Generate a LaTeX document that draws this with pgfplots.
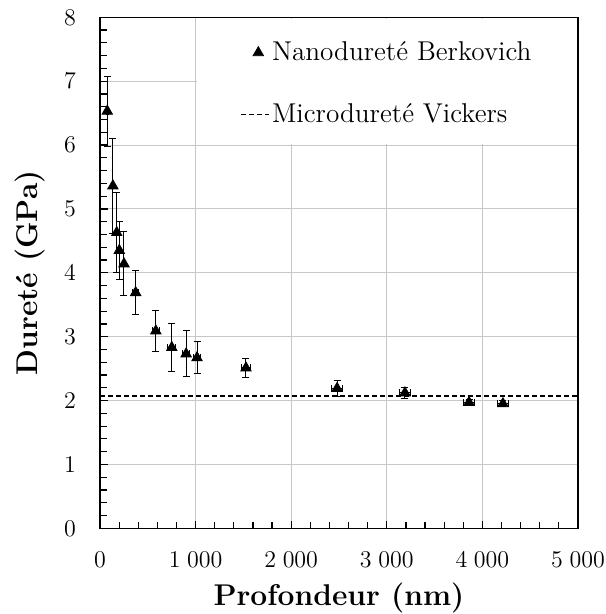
\documentclass[border=0pt]{standalone}
\usepackage{fontspec}
\usepackage{pgfplots}
\pgfplotsset{compat=1.18}
\usepackage{pgfplotstable}

\pgfplotsset{shortdash legend/.style={legend image code/.code={\draw[##1] (0pt,0pt) -- (14pt,0pt);}}}

\pgfplotstableread{
x     y     ex   ey
76    6.53  10   0.55
135   5.36  10   0.75
175   4.63  10   0.63
202   4.35  10   0.45
251   4.14  10   0.50
373   3.69  30   0.34
584   3.09  40   0.32
751   2.83  40   0.37
901   2.73  40   0.36
1015  2.67  40   0.25
1527  2.51  50   0.15
2480  2.19  60   0.12
3190  2.12  60   0.09
3860  1.97  60   0.05
4215  1.95  60   0.05
}\nano

\begin{document}
\begin{tikzpicture}
\begin{axis}[
  name=ax,
  scale only axis,
  width=239pt, height=255.5pt,
  xmin=0, xmax=5000, ymin=0, ymax=8,
  xtick={0,1000,...,5000}, ytick={0,1,...,8},
  minor x tick num=4, minor y tick num=4,
  xtick pos=left, ytick pos=left,
  tick align=inside,
  major tick length=3.75pt, minor tick length=3.3pt,
  tick style={black, line width=0.6pt},
  axis line style={black, line width=0.8pt},
  grid=major,
  major grid style={black!22, line width=0.5pt},
  scaled ticks=false,
  /pgf/number format/.cd, 1000 sep={\;}, /pgfplots/.cd,
  tick label style={font=\fontsize{12}{14}\selectfont},
  xticklabel style={yshift=-8.5pt},
  yticklabel style={xshift=-8.5pt},
  xlabel={Profondeur (nm)},
  ylabel={Dureté (GPa)},
  xlabel style={font=\fontsize{15}{17}\selectfont\bfseries, at={(axis description cs:0.5,-0.137)}, anchor=center},
  ylabel style={font=\fontsize{15}{17}\selectfont\bfseries, at={(axis description cs:-0.146,0.5)}, anchor=center},
  legend style={at={(rel axis cs:0.293,0.957)}, anchor=north west, draw=none, fill=none,
    font=\fontsize{13.6}{15}\selectfont, row sep=18pt, inner sep=0pt,
    nodes={inner sep=1pt}},
  legend cell align=left,
]
\fill[white] (rel axis cs:0.203,0.752) rectangle (rel axis cs:0.997,0.997);
\addplot[only marks, mark=triangle*, mark size=3pt, black,
  error bars/.cd, y dir=both, y explicit, x dir=both, x explicit,
  error bar style={black, line width=0.5pt},
  error mark options={black, mark size=1.75pt, rotate=90, line width=0.5pt}]
  table[x=x, y=y, x error=ex, y error=ey] {\nano};
\addlegendentry{Nanodureté Berkovich}
\addplot[black, dashed, dash pattern=on 2.5pt off 1.5pt, line width=0.8pt, shortdash legend]
  coordinates {(0,2.07) (5000,2.07)};
\addlegendentry{Microdureté Vickers}
\end{axis}
% overlay axis: long centred ticks at the major positions (drawn as minor ticks)
\begin{axis}[
  scale only axis,
  width=239pt, height=255.5pt,
  xmin=0, xmax=5000, ymin=0, ymax=8,
  xtick=\empty, ytick=\empty,
  minor xtick={0,1000,2000,3000,4000,5000},
  minor ytick={0,1,2,3,4,5,6,7,8},
  xtick pos=left, ytick pos=left,
  tick align=center, minor tick length=7.5pt,
  minor tick style={black, line width=0.6pt},
  axis line style={draw=none},
]
\addplot[draw=none, forget plot] coordinates {(0,0)};
\end{axis}
\pgfresetboundingbox
\useasboundingbox (ax.south west) ++(-50pt,-42.85pt) rectangle ++(302.5pt,307pt);
\end{tikzpicture}
\end{document}
